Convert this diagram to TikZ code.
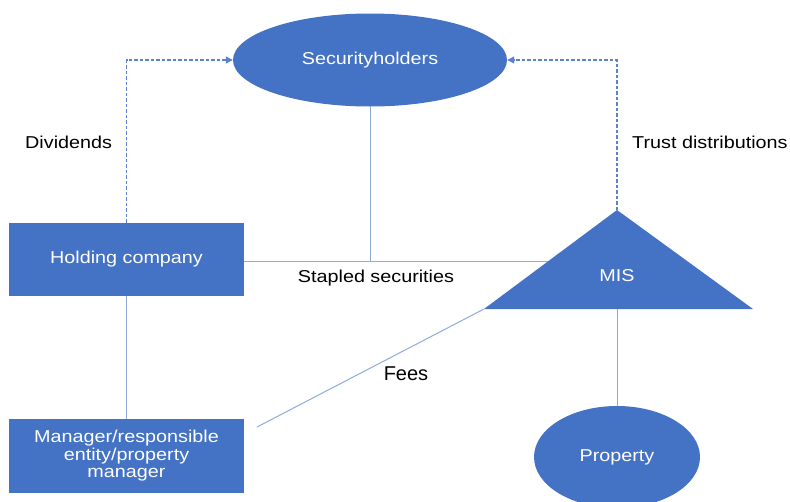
\documentclass[tikz,border=0pt]{standalone}
\usepackage{fontspec}
\setmainfont{Liberation Sans}[FakeStretch=1.15]
\newfontfamily\feesfont{Liberation Sans}
\usetikzlibrary{shapes.geometric,arrows.meta}

\definecolor{boxblue}{HTML}{4472C4}
\definecolor{linkblue}{HTML}{8FAADC}
\definecolor{flowblue}{HTML}{5B82CF}

\tikzset{
  entity/.style={fill=boxblue, text=white, inner sep=0pt, align=center,
                 font=\fontsize{17.2}{17.5}\selectfont},
  link/.style={draw=linkblue, line width=1pt},
  payout/.style={draw=flowblue, line width=1.3pt, dash pattern=on 3.5pt off 2pt,
                 -{Triangle[length=7pt,width=7pt]}},
  tag/.style={font=\fontsize{17.2}{20}\selectfont, inner sep=0pt}
}

\begin{document}
\begin{tikzpicture}[x=1pt, y=-1pt]
  \useasboundingbox (0,0) rectangle (790,501);

  % entities
  \node[entity, ellipse, minimum width=274pt, minimum height=93pt] (holders) at (370,60) {Securityholders};
  \node[entity, rectangle, minimum width=235pt, minimum height=73pt] (holdco) at (126.5,259.5) {Holding company};
  \node[entity, rectangle, minimum width=235pt, minimum height=74pt] (manager) at (126.5,456) {Manager/responsible\\entity/property\\manager};
  \node[entity, ellipse, minimum width=166pt, minimum height=102pt] (property) at (617,457) {Property};

  % the trust (MIS) triangle
  \coordinate (misapex) at (617,210);
  \coordinate (misleft) at (484,309);
  \coordinate (misright) at (753,309);
  \coordinate (misbase) at (617,309);
  \coordinate (stapleend) at (548,261);
  \coordinate (feesend) at (257,427);
  \fill[boxblue] (misleft) -- (misapex) -- (misright) -- cycle;
  \node[entity, fill=none] (mis) at (617,276) {MIS};

  % stapled structure
  \draw[link] (holdco.east |- stapleend) -- (stapleend);
  \draw[link] (holders.south) -- (holders.south |- stapleend);
  \draw[link] (holdco.south) -- (manager.north);
  \draw[link] (misbase) -- (property.north);
  \draw[link] (misleft) -- (feesend); %fees to manager

  % distributions back up to holders
  \draw[payout] (holdco.north) |- (holders.west);
  \draw[payout] (misapex) |- (holders.east);

  % labels
  \node[tag, anchor=west] (divtag) at (25,142) {Dividends};
  \node[tag, anchor=west] (trusttag) at (632,142) {Trust distributions};
  \node[tag] (stapletag) at (376,278) {Stapled securities};
  \node[inner sep=0pt, font=\feesfont\fontsize{20}{24}\selectfont] (feestag) at (406,374) {Fees};
\end{tikzpicture}
\end{document}
